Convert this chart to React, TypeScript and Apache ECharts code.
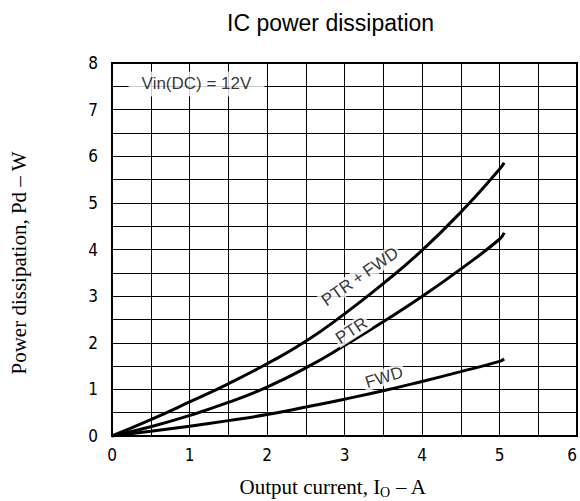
import React, { useEffect, useRef } from 'react';
import * as echarts from 'echarts';

// Output current (A) sample points along the curves
const currentA = [0, 0.5, 1, 1.5, 2, 2.5, 3, 3.5, 4, 4.5, 5, 5.06];
// Power dissipation (W)
const ptrFwdW = [0, 0.35, 0.73, 1.12, 1.55, 2.03, 2.62, 3.27, 3.98, 4.8, 5.72, 5.86];
const ptrW = [0, 0.2, 0.44, 0.72, 1.05, 1.46, 1.94, 2.45, 2.99, 3.58, 4.22, 4.36];
const fwdW = [0, 0.1, 0.21, 0.33, 0.46, 0.62, 0.79, 0.97, 1.17, 1.38, 1.6, 1.65];

// Curve labels (placed in data coordinates)
const curveLabels = ['PTR\u2009+\u2009FWD', 'PTR', 'FWD'];
const labelX = [3.2, 3.09, 3.51];
const labelY = [3.42, 2.26, 1.26];
const labelAngle = [35, 33, 17];

const noteText = 'Vin(DC) = 12V';
const noteX = 1.09;
const noteY = 7.55;

const titleText = 'IC power dissipation';
const xName = ['Output current, I', 'O', ' – A'];
const yName = 'Power dissipation, Pd – W';

const sansNarrow = '"Liberation Sans Narrow", "Arial Narrow", "DejaVu Sans Condensed", "Liberation Sans", Arial, sans-serif';
const sans = '"Liberation Sans", Arial, Helvetica, sans-serif';
const serif = '"Liberation Serif", "Times New Roman", serif';

const pairs = (ys: number[]) => currentA.map((x, i) => [x, ys[i]]);

export default function App() {
  const ref = useRef<HTMLDivElement>(null);
  useEffect(() => {
    if (!ref.current) return;
    const chart = echarts.init(ref.current, undefined, { renderer: 'svg' });
    const lineSeries = (name: string, ys: number[]) => ({
      name,
      type: 'line',
      data: pairs(ys),
      smooth: 0.5,
      showSymbol: false,
      silent: true,
      lineStyle: { color: '#000', width: 3 },
      z: 3,
    });
    chart.setOption({
      animation: false,
      backgroundColor: '#fff',
      title: {
        text: titleText,
        left: 222,
        top: 6,
        textStyle: { fontSize: 23, fontWeight: 'normal', color: '#000', fontFamily: sans },
      },
      grid: {
        left: 112,
        right: 3,
        top: 63,
        bottom: 65,
        show: true,
        borderColor: '#000',
        borderWidth: 2,
      },
      xAxis: {
        type: 'value',
        min: 0,
        max: 6,
        interval: 1,
        axisLine: { show: false },
        axisTick: { show: false },
        axisLabel: { margin: 10, fontSize: 17, color: '#000', fontFamily: sansNarrow, alignMaxLabel: 'right' },
        splitLine: { show: true, lineStyle: { color: '#000', width: 1 } },
        minorTick: { show: false, splitNumber: 2 },
        minorSplitLine: { show: true, lineStyle: { color: '#000', width: 1 } },
      },
      yAxis: {
        type: 'value',
        min: 0,
        max: 8,
        interval: 1,
        axisLine: { show: false },
        axisTick: { show: false },
        axisLabel: { margin: 14, fontSize: 17, color: '#000', fontFamily: sansNarrow },
        splitLine: { show: true, lineStyle: { color: '#000', width: 1 } },
        minorTick: { show: false, splitNumber: 2 },
        minorSplitLine: { show: true, lineStyle: { color: '#000', width: 1 } },
      },
      graphic: [
        {
          type: 'text',
          x: 333,
          y: 487,
          style: {
            text: `{n|${xName[0]}}{s|${xName[1]}}{n|${xName[2]}}`,
            align: 'center',
            verticalAlign: 'middle',
            textAlign: 'center',
            textVerticalAlign: 'middle',
            fill: '#000',
            rich: {
              n: { fontSize: 21, fontFamily: serif, color: '#000' },
              s: { fontSize: 14, fontFamily: serif, color: '#000', padding: [11, 0, 0, 0] },
            },
          },
        },
        {
          type: 'text',
          x: 19,
          y: 263,
          rotation: Math.PI / 2,
          style: {
            text: yName,
            font: `21px ${serif}`,
            align: 'center',
            verticalAlign: 'middle',
            textAlign: 'center',
            textVerticalAlign: 'middle',
            fill: '#000',
          },
        },
      ],
      series: [
        lineSeries('PTR+FWD', ptrFwdW),
        lineSeries('PTR', ptrW),
        lineSeries('FWD', fwdW),
        {
          type: 'scatter',
          silent: true,
          symbolSize: 0,
          z: 5,
          data: curveLabels.map((t, i) => ({
            value: [labelX[i], labelY[i]],
            label: { rotate: labelAngle[i], formatter: t },
          })),
          label: {
            show: true,
            position: 'inside',
            color: '#000',
            fontSize: 17,
            fontFamily: sans,
            backgroundColor: '#fff',
            padding: [0, 2],
          },
        },
        {
          type: 'scatter',
          silent: true,
          symbolSize: 0,
          z: 5,
          data: [{ value: [noteX, noteY] }],
          label: {
            show: true,
            position: 'inside',
            formatter: noteText,
            color: '#000',
            fontSize: 17,
            fontFamily: sans,
            backgroundColor: '#fff',
            padding: [4, 13],
          },
        },
      ],
    });
    return () => chart.dispose();
  }, []);
  return <div ref={ref} style={{ width: 580, height: 501, position: 'absolute', left: 0, top: 0 }} />;
}
